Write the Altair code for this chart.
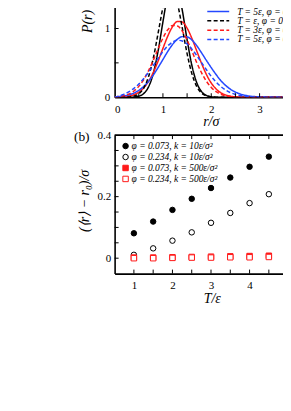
import altair as alt
import pandas as pd

# ---------------- panel (a) data ----------------
r_vals = [0.0, 0.1, 0.2, 0.3, 0.4, 0.5, 0.6, 0.7, 0.8, 0.9, 1.0, 1.1, 1.2, 1.3, 1.4, 1.5,
          1.6, 1.7, 1.8, 1.9, 2.0, 2.1, 2.2, 2.3, 2.4, 2.5, 2.6, 2.7, 2.8, 2.9, 3.0, 3.1,
          3.2, 3.6]

p_T1_phi073 = [0, 0, 0, 0, 0.003, 0.016, 0.052, 0.148, 0.344, 0.673, 1.097, 1.492, 1.694, 1.604,
               1.268, 0.836, 0.460, 0.211, 0.081, 0.026, 0.007, 0.001, 0, 0, 0, 0, 0, 0, 0, 0,
               0, 0, 0, 0]
p_T3_phi073 = [0, 0.002, 0.007, 0.017, 0.037, 0.073, 0.134, 0.229, 0.360, 0.526, 0.711, 0.889,
               1.029, 1.103, 1.095, 1.005, 0.855, 0.673, 0.491, 0.331, 0.207, 0.120, 0.064,
               0.032, 0.015, 0.006, 0.002, 0, 0, 0, 0, 0, 0, 0]
p_T5_phi073 = [0.005, 0.011, 0.020, 0.036, 0.061, 0.100, 0.155, 0.229, 0.322, 0.432, 0.549,
               0.666, 0.769, 0.844, 0.882, 0.878, 0.832, 0.750, 0.645, 0.535, 0.430, 0.330,
               0.240, 0.170, 0.115, 0.075, 0.047, 0.028, 0.016, 0.009, 0.005, 0.002, 0.001, 0]
p_T1_phi234 = [0, 0, 0, 0.004, 0.016, 0.049, 0.130, 0.294, 0.567, 0.932, 1.304, 1.555, 1.580,
               1.368, 1.009, 0.635, 0.340, 0.155, 0.060, 0.020, 0.006, 0.001, 0, 0, 0, 0, 0,
               0, 0, 0, 0, 0, 0, 0]
p_T3_phi234 = [0.005, 0.012, 0.025, 0.049, 0.091, 0.158, 0.254, 0.383, 0.537, 0.704, 0.860,
               0.981, 1.044, 1.037, 0.961, 0.831, 0.670, 0.504, 0.354, 0.232, 0.142, 0.081,
               0.043, 0.021, 0.010, 0.004, 0.002, 0, 0, 0, 0, 0, 0, 0]
p_T5_phi234 = [0.0, 0.020, 0.045, 0.082, 0.130, 0.193, 0.270, 0.361, 0.462, 0.566, 0.665,
               0.747, 0.804, 0.829, 0.819, 0.774, 0.700, 0.607, 0.503, 0.400, 0.304, 0.222,
               0.155, 0.103, 0.066, 0.041, 0.024, 0.013, 0.007, 0.004, 0.002, 0.001, 0, 0]

labels_a = ["T = ε, φ = 0.073", "T = 3ε, φ = 0.073", "T = 5ε, φ = 0.073",
            "T = ε, φ = 0.234", "T = 3ε, φ = 0.234", "T = 5ε, φ = 0.234"]
series_a = [p_T1_phi073, p_T3_phi073, p_T5_phi073, p_T1_phi234, p_T3_phi234, p_T5_phi234]
legend_a_visible = labels_a[2:]   # first two entries lie above the cropped view

# ---------------- panel (b) data ----------------
T_vals = [1, 1.5, 2, 2.5, 3, 3.5, 4, 4.5, 5]
d_phi073_k10 = [0.081, 0.119, 0.157, 0.193, 0.228, 0.262, 0.297, 0.330, 0.363]
d_phi234_k10 = [0.011, 0.032, 0.057, 0.084, 0.115, 0.147, 0.179, 0.208, 0.245]
d_phi073_k500 = [0.002, 0.002, 0.003, 0.004, 0.005, 0.006, 0.007, 0.008, 0.009]
d_phi234_k500 = [0.000, 0.000, 0.001, 0.002, 0.002, 0.003, 0.003, 0.004, 0.005]

labels_b = ["φ = 0.073, k = 10ε/σ²", "φ = 0.234, k = 10ε/σ²",
            "φ = 0.073, k = 500ε/σ²", "φ = 0.234, k = 500ε/σ²"]
series_b = [d_phi073_k10, d_phi234_k10, d_phi073_k500, d_phi234_k500]

# tick positions (inward ticks)
a_xticks = [0.5, 1, 1.5, 2, 2.5, 3, 3.5]
a_yticks = [0.5, 1.0]
b_xticks = [1, 1.5, 2, 2.5, 3, 3.5, 4, 4.5, 5]
b_yticks = [0, 0.05, 0.1, 0.15, 0.2, 0.25, 0.3, 0.35]

# ---------------- styles ----------------
BLUE = "#2448ff"
RED = "#ff1a1a"
colors_a = ["black", RED, BLUE, "black", RED, BLUE]
dash_a = [[1, 0], [1, 0], [1, 0], [4, 2.4], [4, 2.4], [4, 2.4]]
shapes_b = ["circle", "circle", "square", "square"]
fills_b = ["black", "white", RED, "white"]
strokes_b = ["black", "black", RED, RED]
SERIF = "Liberation Serif"

df_a = pd.DataFrame([
    {"r": r, "P": p, "series": lab, "order": i}
    for i, (lab, vals) in enumerate(zip(labels_a, series_a))
    for r, p in zip(r_vals, vals)
])
df_b = pd.DataFrame([
    {"T": t, "d": v, "series": lab, "order": i}
    for i, (lab, vals) in enumerate(zip(labels_b, series_b))
    for t, v in zip(T_vals, vals)
])
df_leg_a = pd.DataFrame({"series": legend_a_visible})
df_leg_b = pd.DataFrame({"series": labels_b})

WA, HA = 176, 90
WB, HB = 176, 139
XA_MAX = 3.629
XB_MAX = 5.048

color_a = alt.Color("series:N", scale=alt.Scale(domain=labels_a, range=colors_a), legend=None)
dash_a_enc = alt.StrokeDash("series:N", scale=alt.Scale(domain=labels_a, range=dash_a), legend=None)

xa_scale = alt.Scale(domain=[0, XA_MAX], nice=False)
ya_scale = alt.Scale(domain=[0, 1.305], nice=False)

lines = alt.Chart(df_a).mark_line(strokeWidth=1.5, clip=True, interpolate="monotone").encode(
    x=alt.X("r:Q", scale=xa_scale,
            axis=alt.Axis(values=[0, 1, 2, 3], format="d", title=None, labelPadding=6)),
    y=alt.Y("P:Q", scale=ya_scale,
            axis=alt.Axis(values=[0, 1], format="d", title=None, labelPadding=5)),
    color=color_a, strokeDash=dash_a_enc, order="order:Q",
)
ticks_ax = alt.Chart(pd.DataFrame({"r": a_xticks})).mark_rule(color="black", strokeWidth=1).encode(
    x=alt.X("r:Q", scale=xa_scale), y=alt.value(HA), y2=alt.value(HA - 4))
ticks_ay = alt.Chart(pd.DataFrame({"P": a_yticks})).mark_rule(color="black", strokeWidth=1).encode(
    y=alt.Y("P:Q", scale=ya_scale), x=alt.value(0), x2=alt.value(4))

title_a = alt.Chart(pd.DataFrame({"t": ["P(r)", "r/σ"], "x": [-27, 97], "y": [14, HA + 25],
                                   "a": [270, 0]})).mark_text(
    font=SERIF, fontSize=14, fontStyle="italic", align="center", baseline="middle", color="black"
).encode(text="t:N", x=alt.X("x:Q", scale=None), y=alt.Y("y:Q", scale=None), angle=alt.Angle("a:Q", scale=None))

leg_y_a = alt.Y("series:N", scale=alt.Scale(type="point", domain=legend_a_visible, range=[4, 32], padding=0), axis=None)
leg_rules_a = alt.Chart(df_leg_a).mark_rule(strokeWidth=1.5).encode(
    y=leg_y_a, x=alt.value(93), x2=alt.value(115), color=color_a, strokeDash=dash_a_enc)
leg_text_a = alt.Chart(df_leg_a).mark_text(
    font=SERIF, fontSize=9.5, fontStyle="italic", align="left", baseline="middle", color="black",
    limit=WA - 123, ellipsis="\u200b").encode(y=leg_y_a, x=alt.value(123), text="series:N")

panel_a = alt.layer(
    alt.layer(lines, ticks_ax, ticks_ay),
    leg_rules_a, leg_text_a, title_a,
).resolve_scale(y="independent", x="independent").properties(width=WA, height=HA)

# ---------------- panel (b) ----------------
xb_scale = alt.Scale(domain=[0.5, XB_MAX], nice=False)
yb_scale = alt.Scale(domain=[-0.05, 0.4], nice=False)
shape_b = alt.Shape("series:N", scale=alt.Scale(domain=labels_b, range=shapes_b), legend=None)
fill_b = alt.Fill("series:N", scale=alt.Scale(domain=labels_b, range=fills_b), legend=None)
stroke_b = alt.Stroke("series:N", scale=alt.Scale(domain=labels_b, range=strokes_b), legend=None)

pts = alt.Chart(df_b).mark_point(filled=True, size=30, strokeWidth=1, opacity=1, clip=True).encode(
    x=alt.X("T:Q", scale=xb_scale,
            axis=alt.Axis(values=[1, 2, 3, 4, 5], format="d", title=None, labelPadding=6)),
    y=alt.Y("d:Q", scale=yb_scale,
            axis=alt.Axis(values=[0, 0.1, 0.2, 0.3, 0.4], title=None, labelPadding=4,
                          labelExpr="datum.value == 0 ? '0' : format(datum.value, '.1f')")),
    shape=shape_b, fill=fill_b, stroke=stroke_b, order="order:Q",
)
ticks_bx = alt.Chart(pd.DataFrame({"T": b_xticks})).mark_rule(color="black", strokeWidth=1).encode(
    x=alt.X("T:Q", scale=xb_scale), y=alt.value(HB), y2=alt.value(HB - 4))
ticks_bx_top = alt.Chart(pd.DataFrame({"T": b_xticks})).mark_rule(color="black", strokeWidth=1).encode(
    x=alt.X("T:Q", scale=xb_scale), y=alt.value(0), y2=alt.value(4))
ticks_by = alt.Chart(pd.DataFrame({"d": b_yticks})).mark_rule(color="black", strokeWidth=1).encode(
    y=alt.Y("d:Q", scale=yb_scale), x=alt.value(0), x2=alt.value(4))
top_frame_b = alt.Chart(pd.DataFrame({"d": [0.4]})).mark_rule(color="black", strokeWidth=1.6).encode(
    y=alt.Y("d:Q", scale=yb_scale), x=alt.value(0), x2=alt.value(WB))

title_b = alt.Chart(pd.DataFrame({"t": ["(⟨r⟩ − r₀)/σ", "T/ε"], "x": [-30, 98], "y": [66, HB + 26],
                                   "a": [270, 0]})).mark_text(
    font=SERIF, fontSize=14, fontStyle="italic", align="center", baseline="middle", color="black"
).encode(text="t:N", x=alt.X("x:Q", scale=None), y=alt.Y("y:Q", scale=None), angle=alt.Angle("a:Q", scale=None))
label_b = alt.Chart(pd.DataFrame({"t": ["(b)"]})).mark_text(
    font=SERIF, fontSize=13.5, align="center", baseline="middle", color="black").encode(
    text="t:N", x=alt.value(-33), y=alt.value(2))

leg_y_b = alt.Y("series:N", scale=alt.Scale(type="point", domain=labels_b, range=[11, 44], padding=0), axis=None)
leg_pts_b = alt.Chart(df_leg_b).mark_point(filled=True, size=30, strokeWidth=1, opacity=1).encode(
    y=leg_y_b, x=alt.value(11), shape=shape_b, fill=fill_b, stroke=stroke_b)
leg_text_b = alt.Chart(df_leg_b).mark_text(
    font=SERIF, fontSize=9.5, fontStyle="italic", align="left", baseline="middle", color="black"
).encode(y=leg_y_b, x=alt.value(17), text="series:N")

panel_b = alt.layer(
    alt.layer(pts, ticks_bx, ticks_bx_top, ticks_by, top_frame_b),
    leg_pts_b, leg_text_b, title_b, label_b,
).resolve_scale(y="independent", x="independent").properties(width=WB, height=HB)

chart = alt.vconcat(panel_a, panel_b, spacing=38, bounds="flush").properties(
    padding={"left": 65, "top": -3, "right": -9, "bottom": 5}
).configure_view(
    stroke="transparent"
).configure_axis(
    labelFont=SERIF, labelFontSize=11, labelColor="black",
    ticks=False, grid=False,
    domain=True, domainColor="black", domainWidth=1.6,
)

chart.save("out.html", embed_options={"renderer": "svg", "actions": False})
